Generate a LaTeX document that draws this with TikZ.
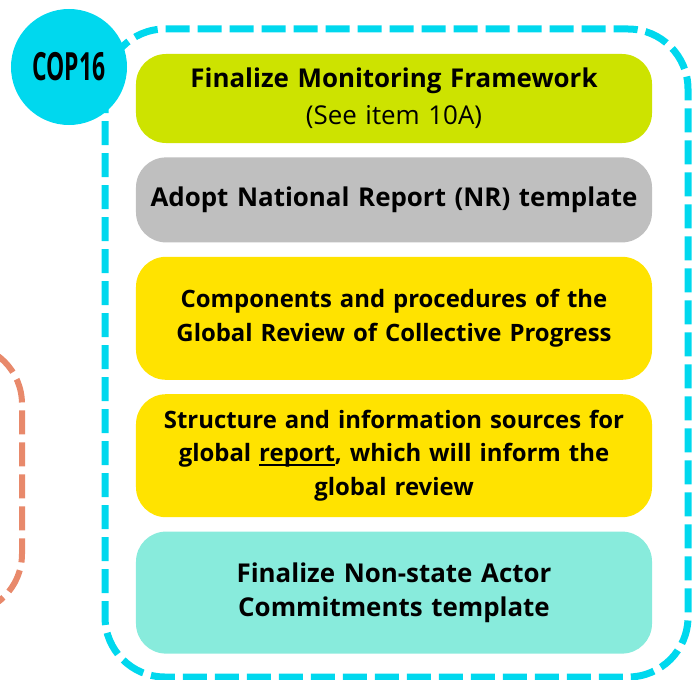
\documentclass[tikz,border=0pt]{standalone}
\usepackage{fontspec}
\setmainfont{Open Sans}
\newfontfamily\copfont[FakeStretch=0.59]{Open Sans}
\usepackage{xcolor}
\usepackage{tikz}
\usetikzlibrary{positioning}

\definecolor{copcyan}{HTML}{00D8EE}
\definecolor{lime}{HTML}{CDE300}
\definecolor{greybox}{HTML}{BFBFBF}
\definecolor{yellowbox}{HTML}{FFE300}
\definecolor{aquabox}{HTML}{88EBDC}
\definecolor{salmon}{HTML}{E8896B}

\newlength{\ulwidth}
\newcommand{\ulword}[1]{\settowidth{\ulwidth}{#1}%
	\rlap{\raisebox{-4bp}{\rule{\ulwidth}{2bp}}}#1}

\begin{document}
\begin{tikzpicture}[x=1bp, y=-1bp,
	node distance = 14bp,
	item/.style = {rounded corners=30bp, minimum width=516bp, text width=510bp,
		align=center, inner sep=0pt, font=\fontsize{26}{34}\selectfont\bfseries},
	small/.style = {font=\fontsize{24}{34}\selectfont\bfseries},
	frame/.style = {line width=7bp, dash pattern=on 24bp off 8bp, rounded corners=60bp}
	]
	\useasboundingbox (0,0) rectangle (695,680);
	
	% dashed groups
	\draw[frame, copcyan] (105,29) rectangle (688,677);
	\draw[frame, salmon, line width=6bp] (-120,344) rectangle (22,614);
	
	\node (cop) [circle, fill=copcyan, minimum size=116bp, inner sep=0pt] at (69,67)
		{\copfont\bfseries\fontsize{39}{39}\selectfont COP16};
	
	\node (nr0) [item, fill=lime, minimum height=89bp,
		font=\fontsize{26}{37}\selectfont\bfseries] at (394,98.5)
		{Finalize Monitoring Framework\\ {\mdseries (See item 10A)}};
	\node (nr1) [item, fill=greybox, minimum height=85bp, below=of nr0]
		{Adopt National Report (NR) template};
	\node (nr2) [item, small, fill=yellowbox, minimum height=123bp, below=of nr1]
		{Components and procedures of the\\ Global Review of Collective Progress};
	\node (nr3) [item, small, fill=yellowbox, minimum height=123bp, below=of nr2]
		{Structure and information sources for\\ global \ulword{report}, which will inform the\\ global review};
	\node (nr4) [item, fill=aquabox, minimum height=122bp, below=of nr3]
		{Finalize Non-state Actor\\ Commitments template};
\end{tikzpicture}
\end{document}
